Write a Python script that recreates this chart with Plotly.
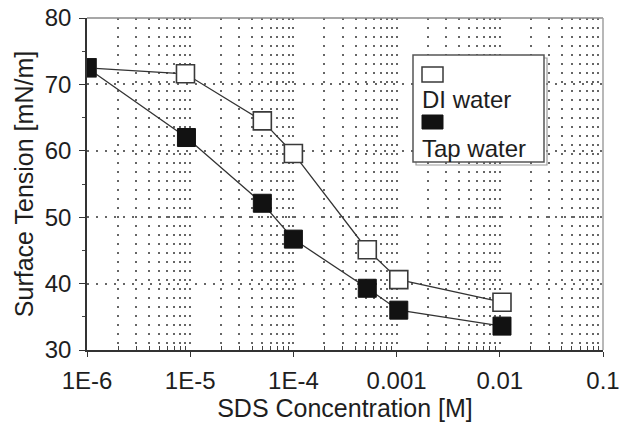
import plotly.graph_objects as go

# SDS concentration [M] and surface tension [mN/m]
conc_di = [1e-6, 9e-6, 5e-5, 1e-4, 5.2e-4, 1.05e-3, 1.05e-2]
tension_di = [72.5, 71.6, 64.5, 59.6, 45.1, 40.6, 37.2]

conc_tap = [1e-6, 9.2e-6, 5e-5, 1e-4, 5.2e-4, 1.05e-3, 1.05e-2]
tension_tap = [72.5, 62.0, 52.1, 46.7, 39.3, 36.0, 33.6]

x_tickvals = [1e-6, 1e-5, 1e-4, 1e-3, 1e-2, 1e-1]
x_ticktext = ["1E-6", "1E-5", "1E-4", "0.001", "0.01", "0.1"]
x_minorvals = [m * 10.0 ** e for e in range(-6, -1) for m in range(2, 10)]

FONT = "Liberation Sans, Arial, Helvetica, sans-serif"
INK = "#1e1e1e"
GRID = "#666666"
DOTS = "1.6px,7.4px"

# plot area in pixels: left 87, right 603, top 18, bottom 350
W, H = 629, 423
L, R, T, B = 87, 26, 18, 73
PW, PH = W - L - R, H - T - B


def px(x):
    return (x - L) / PW


def py(y):
    return (H - B - y) / PH


fig = go.Figure()

fig.add_trace(go.Scatter(
    x=conc_di, y=tension_di, mode="lines+markers", name="DI water",
    line=dict(color="#333333", width=1.3),
    marker=dict(symbol="square", size=18, color="white",
                line=dict(color="#3a3a3a", width=1.6)),
    showlegend=False,
))
fig.add_trace(go.Scatter(
    x=conc_tap, y=tension_tap, mode="lines+markers", name="Tap water",
    line=dict(color="#333333", width=1.3),
    marker=dict(symbol="square", size=18, color="#121212",
                line=dict(color="#121212", width=1)),
    showlegend=False,
))

shapes = [
    # upper and right frame
    dict(type="line", xref="paper", yref="paper", x0=0, x1=1, y0=1, y1=1,
         line=dict(color="#8a8a8a", width=1.5)),
    dict(type="line", xref="paper", yref="paper", x0=1, x1=1, y0=0, y1=1,
         line=dict(color="#a0a0a0", width=1.5)),
    # legend box with a slight shadow
    dict(type="rect", xref="paper", yref="paper",
         x0=px(416), x1=px(547), y0=py(165), y1=py(58),
         line=dict(color="#9a9a9a", width=1.2), fillcolor="rgba(0,0,0,0)"),
    dict(type="rect", xref="paper", yref="paper",
         x0=px(413), x1=px(544), y0=py(162), y1=py(55),
         line=dict(color="#555555", width=1.5), fillcolor="white"),
    # legend symbols
    dict(type="rect", xref="paper", yref="paper",
         x0=px(422), x1=px(443), y0=py(82), y1=py(67),
         line=dict(color="#3a3a3a", width=1.5), fillcolor="white"),
    dict(type="rect", xref="paper", yref="paper",
         x0=px(422), x1=px(443), y0=py(129), y1=py(115),
         line=dict(color="#121212", width=1), fillcolor="#121212"),
]

annotations = [
    dict(text="DI water", xref="paper", yref="paper", x=px(420), y=py(100),
         xanchor="left", yanchor="middle", showarrow=False,
         font=dict(family=FONT, size=24, color=INK)),
    dict(text="Tap water", xref="paper", yref="paper", x=px(420), y=py(148),
         xanchor="left", yanchor="middle", showarrow=False,
         font=dict(family=FONT, size=24, color=INK)),
]

fig.update_layout(
    width=W, height=H,
    margin=dict(l=L, r=R, t=T, b=B, pad=0),
    paper_bgcolor="white", plot_bgcolor="white",
    font=dict(family=FONT, size=24, color=INK),
    shapes=shapes, annotations=annotations,
    showlegend=False,
)

fig.update_xaxes(
    type="log", range=[-6, -1], autorange=False,
    tickmode="array", tickvals=x_tickvals, ticktext=x_ticktext,
    tickfont=dict(size=24), ticks="outside", ticklen=5, tickcolor="#333",
    ticklabelstandoff=3,
    showline=True, linecolor="#333333", linewidth=1.6,
    showgrid=True, gridcolor=GRID, gridwidth=1.5, griddash=DOTS,
    minor=dict(tickmode="array", tickvals=x_minorvals, ticks="inside",
               ticklen=4, tickcolor="#444", showgrid=True,
               gridcolor=GRID, gridwidth=1.5, griddash=DOTS),
    zeroline=False,
    title=dict(text="SDS Concentration [M]", font=dict(size=25), standoff=1),
    automargin=False,
)

fig.update_yaxes(
    range=[30, 80], autorange=False,
    tickmode="linear", tick0=30, dtick=10,
    tickfont=dict(size=24), ticks="outside", ticklen=6, tickcolor="#333",
    ticklabelstandoff=3,
    showline=True, linecolor="#333333", linewidth=1.6,
    showgrid=True, gridcolor=GRID, gridwidth=1.5, griddash=DOTS,
    minor=dict(tickmode="linear", tick0=30, dtick=5, ticks="outside",
               ticklen=3, tickcolor="#444", showgrid=False),
    zeroline=False,
    title=dict(text="Surface Tension [mN/m]", font=dict(size=25), standoff=4),
    automargin=False,
)

fig.write_html("out.html")
